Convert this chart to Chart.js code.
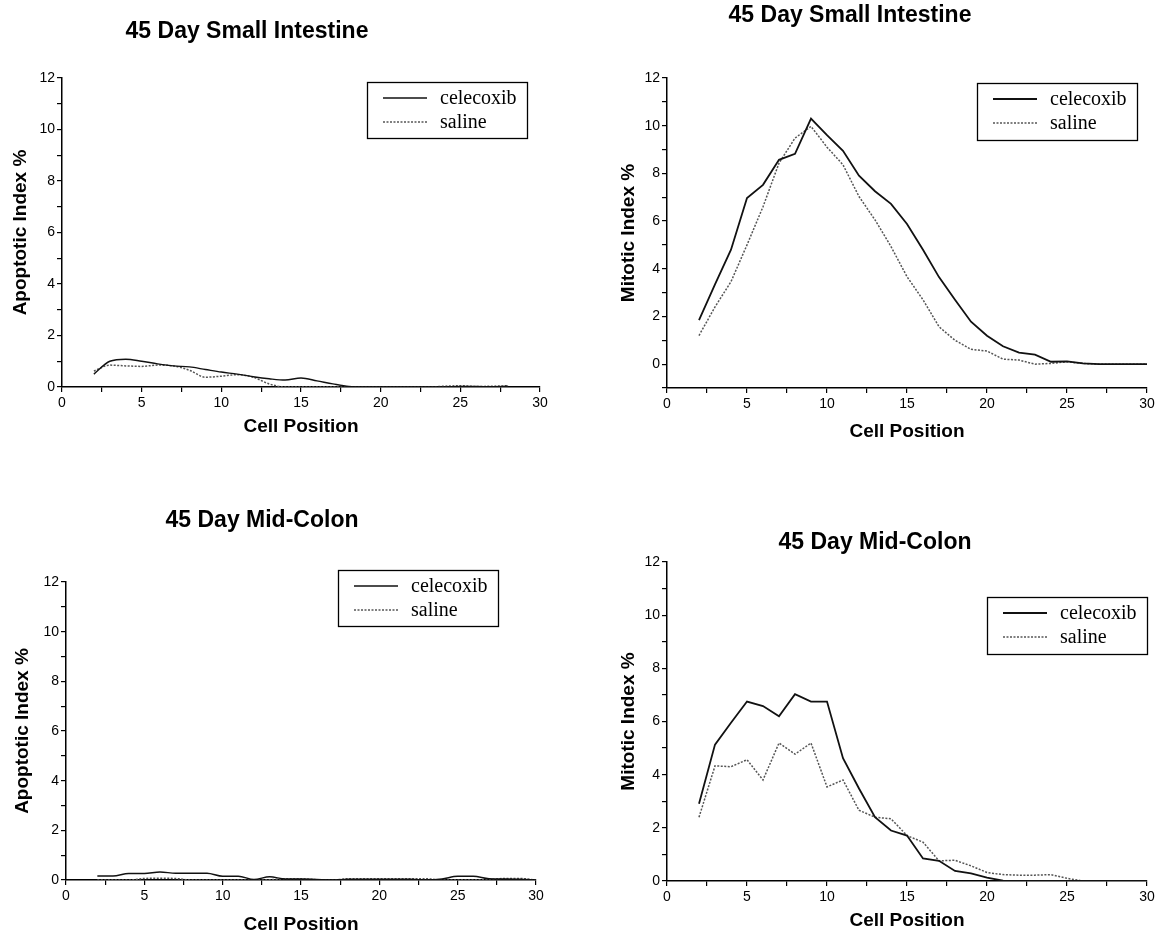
<!DOCTYPE html>
<html>
<head>
<meta charset="utf-8">
<script src="https://cdn.jsdelivr.net/npm/chart.js@4.4.1/dist/chart.umd.min.js"></script>
<style>
  html, body { margin: 0; padding: 0; background: #fff; }
  #wrap { position: relative; width: 1163px; height: 936px; overflow: hidden; }
  #wrap canvas { position: absolute; left: 0; top: 0; pointer-events: none; }
</style>
</head>
<body>
<div id="wrap">
  <canvas id="c1" width="1163" height="936"></canvas>
  <canvas id="c2" width="1163" height="936"></canvas>
  <canvas id="c3" width="1163" height="936"></canvas>
  <canvas id="c4" width="1163" height="936"></canvas>
</div>
<script>
// ---------------- DATA ----------------
const seriesNames = ['celecoxib', 'saline'];
const panelTitles = ['45 Day Small Intestine', '45 Day Small Intestine', '45 Day Mid-Colon', '45 Day Mid-Colon'];
const xAxisTitle = 'Cell Position';
const apoptoticTitle = 'Apoptotic Index %';
const mitoticTitle = 'Mitotic Index %';
const xTickLabels = [0, 5, 10, 15, 20, 25, 30];
const yTickLabels = [0, 2, 4, 6, 8, 10, 12];

// Small intestine, apoptotic index (cell positions 2..28)
const siApopPos = [2,3,4,5,6,7,8,9,10,11,12,13,14,15,16,17,18,19,20,21,22,23,24,25,26,27,28];
const siApopCelecoxib = [0.5,1.0,1.08,1.0,0.9,0.82,0.78,0.68,0.58,0.5,0.4,0.32,0.27,0.35,0.24,0.12,0.02,0,0,0,0,0,0,0.02,0.02,0.01,0.03];
const siApopSaline    = [0.62,0.85,0.82,0.8,0.85,0.82,0.65,0.38,0.42,0.48,0.38,0.12,0,0,0,0,0,0,0,0,0,0,0.03,0.05,0.02,0.03,0.05];

// Small intestine, mitotic index (cell positions 2..30)
const siMitPos = [2,3,4,5,6,7,8,9,10,11,12,13,14,15,16,17,18,19,20,21,22,23,24,25,26,27,28,29,30];
const siMitCelecoxib = [1.85,3.35,4.8,6.97,7.52,8.57,8.82,10.3,9.6,8.95,7.9,7.25,6.72,5.88,4.8,3.65,2.7,1.78,1.19,0.75,0.48,0.4,0.1,0.12,0.03,0,0,0,0];
const siMitSaline    = [1.2,2.4,3.46,5.0,6.6,8.43,9.48,9.97,9.1,8.36,7.03,6.05,4.93,3.67,2.7,1.57,1.0,0.62,0.55,0.21,0.17,0,0.03,0.1,0.03,0,0,0,0];

// Mid-colon, apoptotic index (cell positions 2..30)
const mcApopPos = [2,3,4,5,6,7,8,9,10,11,12,13,14,15,16,17,18,19,20,21,22,23,24,25,26,27,28,29,30];
const mcApopCelecoxib = [0.16,0.16,0.26,0.26,0.32,0.27,0.27,0.27,0.15,0.15,0.02,0.13,0.04,0.04,0.02,0,0.03,0.03,0.03,0.03,0.03,0,0.04,0.15,0.15,0.05,0.04,0.03,0];
const mcApopSaline    = [0,0,0,0.06,0.07,0.06,0,0,0,0,0,0.01,0.05,0.05,0.01,0,0.05,0.05,0.05,0.05,0.05,0.05,0,0,0,0.02,0.06,0.06,0];

// Mid-colon, mitotic index (cell positions 2..30)
const mcMitPos = [2,3,4,5,6,7,8,9,10,11,12,13,14,15,16,17,18,19,20,21,22,23,24,25,26,27,28,29,30];
const mcMitCelecoxib = [2.91,5.13,5.95,6.75,6.58,6.2,7.03,6.75,6.75,4.62,3.48,2.4,1.9,1.71,0.85,0.76,0.38,0.29,0.13,0.01,0,0,0,0,0,0,0,0,0];
const mcMitSaline    = [2.4,4.33,4.3,4.56,3.8,5.19,4.77,5.19,3.54,3.8,2.66,2.4,2.34,1.71,1.46,0.76,0.78,0.57,0.32,0.24,0.22,0.22,0.24,0.1,0,0,0,0,0];

// ---------------- STYLE / LAYOUT ----------------
const SANS = '"Liberation Sans", Arial, Helvetica, sans-serif';
const SERIF = '"Liberation Serif", "Times New Roman", Times, serif';
const W = 1163, H = 936;

const decorPlugin = {
  id: 'panelDecor',
  afterDraw(chart, args, opts) {
    const ctx = chart.ctx;
    ctx.save();
    if (opts.title) {
      ctx.font = 'bold 23px ' + SANS;
      ctx.fillStyle = '#000';
      ctx.textAlign = 'center';
      ctx.textBaseline = 'middle';
      ctx.fillText(opts.title.text, opts.title.x, opts.title.y);
    }
    if (opts.legend) {
      const L = opts.legend;
      ctx.strokeStyle = '#000';
      ctx.lineWidth = 1.3;
      ctx.strokeRect(L.x + 0.5, L.y + 0.5, L.w, L.h);
      ctx.font = '20px ' + SERIF;
      ctx.textAlign = 'left';
      ctx.textBaseline = 'middle';
      chart.data.datasets.forEach((ds, i) => {
        const yy = L.y + 16 + i * 24;
        ctx.beginPath();
        ctx.setLineDash(ds.borderDash || []);
        ctx.strokeStyle = ds.borderColor;
        ctx.lineWidth = ds.borderWidth;
        ctx.moveTo(L.x + 16, yy);
        ctx.lineTo(L.x + 60, yy);
        ctx.stroke();
        ctx.setLineDash([]);
        ctx.fillStyle = '#000';
        ctx.fillText(ds.label, L.x + 73, yy + 1);
      });
    }
    ctx.restore();
  }
};

function toPoints(xs, ys) {
  return xs.map((x, i) => ({ x: x, y: ys[i] }));
}

function makeChart(id, cfg) {
  const smooth = cfg.smooth;
  const datasets = [
    {
      label: seriesNames[0],
      data: toPoints(cfg.pos, cfg.cel),
      borderColor: '#111',
      borderWidth: smooth ? 1.4 : 1.8,
      pointRadius: 0,
      tension: smooth ? 0.4 : 0,
      cubicInterpolationMode: smooth ? 'monotone' : 'default',
      fill: false
    },
    {
      label: seriesNames[1],
      data: toPoints(cfg.pos, cfg.sal),
      borderColor: '#555',
      borderWidth: 1.5,
      borderDash: [2, 1.5],
      pointRadius: 0,
      tension: smooth ? 0.4 : 0,
      cubicInterpolationMode: smooth ? 'monotone' : 'default',
      fill: false
    }
  ];
  const area = cfg.area;
  return new Chart(document.getElementById(id), {
    type: 'line',
    data: { datasets: datasets },
    plugins: [decorPlugin],
    options: {
      responsive: false,
      animation: false,
      devicePixelRatio: 1,
      layout: {
        padding: {
          left: cfg.padLeft,
          right: W - area.right,
          top: area.top,
          bottom: H - area.bottom - cfg.xHeight
        }
      },
      plugins: {
        legend: { display: false },
        tooltip: { enabled: false },
        title: { display: false },
        panelDecor: { title: cfg.title, legend: cfg.legend }
      },
      scales: {
        x: {
          type: 'linear',
          min: 0, max: 30,
          afterBuildTicks: (s) => { s.ticks = [0,2.5,5,7.5,10,12.5,15,17.5,20,22.5,25,27.5,30].map(v => ({ value: v })); },
          ticks: {
            autoSkip: false, maxRotation: 0,
            callback: (v) => xTickLabels.includes(v) ? String(v) : '',
            color: '#000', padding: 3,
            font: { size: 14, family: SANS }
          },
          grid: { drawOnChartArea: false, drawTicks: true, tickLength: 5, color: '#000', lineWidth: 1.2 },
          border: { display: true, color: '#000', width: 1.5 },
          title: {
            display: true, text: xAxisTitle, color: '#000',
            font: { size: 19, weight: 'bold', family: SANS },
            padding: { top: 0, bottom: 0 }
          },
          afterFit: (s) => { s.height = cfg.xHeight; }
        },
        y: {
          type: 'linear',
          min: cfg.yMin, max: 12,
          ticks: {
            autoSkip: false, stepSize: 1,
            callback: (v) => yTickLabels.includes(v) ? String(v) : '',
            color: '#000', padding: 2,
            font: { size: 14, family: SANS }
          },
          grid: { drawOnChartArea: false, drawTicks: true, tickLength: 5, color: '#000', lineWidth: 1.2 },
          border: { display: true, color: '#000', width: 1.5 },
          title: {
            display: true, text: cfg.yTitle, color: '#000',
            font: { size: 19, weight: 'bold', family: SANS },
            padding: { top: 5, bottom: 0 }
          },
          afterFit: (s) => { s.width = area.left - cfg.padLeft; }
        }
      }
    }
  });
}

makeChart('c1', {
  pos: siApopPos, cel: siApopCelecoxib, sal: siApopSaline, smooth: true,
  yMin: 0, yTitle: apoptoticTitle,
  area: { left: 62, right: 540, top: 78, bottom: 387 },
  padLeft: 4, xHeight: 51,
  title: { text: panelTitles[0], x: 247, y: 32 },
  legend: { x: 367, y: 82, w: 160, h: 56 }
});

makeChart('c2', {
  pos: siMitPos, cel: siMitCelecoxib, sal: siMitSaline, smooth: false,
  yMin: -1, yTitle: mitoticTitle,
  area: { left: 667, right: 1147, top: 78, bottom: 388 },
  padLeft: 612, xHeight: 55,
  title: { text: panelTitles[1], x: 850, y: 16 },
  legend: { x: 977, y: 83, w: 160, h: 57 }
});

makeChart('c3', {
  pos: mcApopPos, cel: mcApopCelecoxib, sal: mcApopSaline, smooth: true,
  yMin: 0, yTitle: apoptoticTitle,
  area: { left: 66, right: 536, top: 582, bottom: 880 },
  padLeft: 6, xHeight: 56,
  title: { text: panelTitles[2], x: 262, y: 521 },
  legend: { x: 338, y: 570, w: 160, h: 56 }
});

makeChart('c4', {
  pos: mcMitPos, cel: mcMitCelecoxib, sal: mcMitSaline, smooth: false,
  yMin: 0, yTitle: mitoticTitle,
  area: { left: 667, right: 1147, top: 562, bottom: 881 },
  padLeft: 612, xHeight: 51,
  title: { text: panelTitles[3], x: 875, y: 543 },
  legend: { x: 987, y: 597, w: 160, h: 57 }
});
</script>
</body>
</html>
